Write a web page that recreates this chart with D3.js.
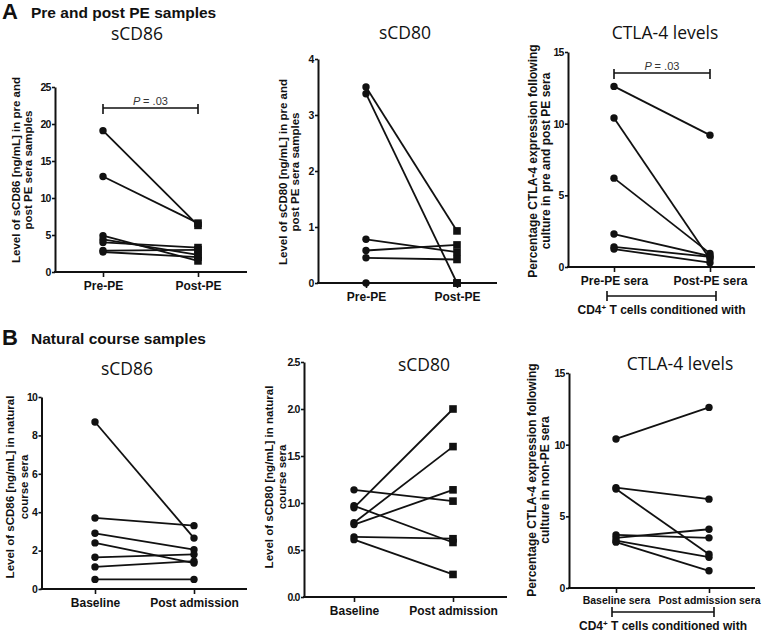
<!DOCTYPE html>
<html><head><meta charset="utf-8">
<script src="https://cdn.jsdelivr.net/npm/d3@7"></script>
<style>body{margin:0;background:#fff}svg{display:block}</style>
</head><body>
<svg id="c" width="767" height="633"></svg>
<script>
// ---------- data ----------
const catsA12 = ["Pre-PE", "Post-PE"];
const catsA3 = ["Pre-PE sera", "Post-PE sera"];
const catsB12 = ["Baseline", "Post admission"];
const catsB3 = ["Baseline sera", "Post admission sera"];

const ticksA1 = [0, 5, 10, 15, 20, 25];
const ticksA2 = [0, 1, 2, 3, 4];
const ticksA3 = [0, 5, 10, 15];
const ticksB1 = [0, 2, 4, 6, 8, 10];
const ticksB2 = [0, 0.5, 1.0, 1.5, 2.0, 2.5];
const ticksB3 = [0, 5, 10, 15];

const a1Pre  = [19.1, 12.9, 4.9, 4.4, 4.0, 2.9, 2.7];
const a1Post = [6.3, 6.6, 1.5, 2.3, 3.3, 3.0, 2.0];
const a2Pre  = [3.5, 3.38, 0.78, 0.58, 0.45, 0];
const a2Post = [0.93, 0, 0.55, 0.68, 0.42, 0];
const a3Pre  = [12.6, 10.4, 6.2, 2.3, 1.4, 1.25];
const a3Post = [9.2, 0.55, 0.95, 0.75, 0.7, 0.3];
const b1Base = [8.7, 3.7, 2.9, 2.4, 1.65, 1.15, 0.5];
const b1Post = [2.65, 3.3, 2.05, 1.35, 1.8, 1.45, 0.5];
const b2Base = [1.14, 0.97, 0.95, 0.79, 0.77, 0.64, 0.61];
const b2Post = [1.02, 0.58, 2.0, 1.6, 1.14, 0.62, 0.24];
const b3Base = [10.4, 7.0, 6.9, 3.7, 3.5, 3.3, 3.2];
const b3Post = [12.6, 6.2, 2.35, 3.5, 4.1, 2.15, 1.2];

const titles = ["sCD86", "sCD80", "CTLA-4 levels"];
const sectionA = "Pre and post PE samples";
const sectionB = "Natural course samples";
const pText = "= .03";
const condText = "T cells conditioned with";

// ---------- drawing ----------
const svg = d3.select("#c");
const INK = "#111";
const BOLD = "'Liberation Sans', Arial, Helvetica, sans-serif";
const TITLEF = "'Open Sans', 'Noto Sans', sans-serif";

function bracket(g, x0, x1, y, up, down) {
  g.append("path")
    .attr("d", `M${x0},${y}H${x1}M${x0},${y - up}V${y + down}M${x1},${y - up}V${y + down}`)
    .attr("stroke", INK).attr("stroke-width", 1.6).attr("fill", "none");
}

function panel(c) {
  const g = svg.append("g");
  const y = d3.scaleLinear().domain([0, c.max]).range([c.yBot, c.yTop]);
  const x = d3.scalePoint().domain(c.cats).range([c.x0, c.x1]);

  // y axis
  const ya = g.append("g").attr("transform", `translate(${c.ax},0)`)
    .call(d3.axisLeft(y).tickValues(c.ticks).tickSize(3).tickSizeOuter(0).tickPadding(1.5)
      .tickFormat(c.fmt));
  ya.select(".domain").attr("stroke", INK).attr("stroke-width", 2);
  ya.selectAll(".tick line").attr("stroke", INK).attr("stroke-width", 1.6);
  ya.selectAll(".tick text").attr("font-family", BOLD).attr("font-weight", "bold")
    .attr("font-size", 10.5).attr("fill", INK).attr("letter-spacing", -0.9);

  // x axis
  g.append("line").attr("x1", c.ax - 1).attr("x2", c.xEnd).attr("y1", c.yBot).attr("y2", c.yBot)
    .attr("stroke", INK).attr("stroke-width", 2);
  const xa = g.append("g").attr("transform", `translate(0,${c.yBot})`)
    .call(d3.axisBottom(x).tickSize(5).tickSizeOuter(0).tickPadding(c.xPad || 4.5));
  xa.select(".domain").remove();
  xa.selectAll(".tick line").attr("stroke", INK).attr("stroke-width", 1.6);
  xa.selectAll(".tick text").attr("font-family", BOLD).attr("font-weight", "bold")
    .attr("font-size", c.xfs || 12).attr("fill", INK);

  // lines
  const line = d3.line().x(d => x(d[0])).y(d => y(d[1]));
  const pairs = c.pre.map((v, i) => [[c.cats[0], v], [c.cats[1], c.post[i]]]);
  g.selectAll(".ln").data(pairs).enter().append("path")
    .attr("d", line).attr("stroke", INK).attr("stroke-width", 1.8).attr("fill", "none");

  // markers
  function markers(vals, cat, shape) {
    if (shape === "circle") {
      g.selectAll(null).data(vals).enter().append("circle")
        .attr("cx", x(cat)).attr("cy", d => y(d)).attr("r", 3.7).attr("fill", INK);
    } else {
      g.selectAll(null).data(vals).enter().append("rect")
        .attr("x", x(cat) - 3.8).attr("y", d => y(d) - 3.8)
        .attr("width", 7.6).attr("height", 7.6).attr("fill", INK);
    }
  }
  markers(c.pre, c.cats[0], "circle");
  markers(c.post, c.cats[1], c.postShape);

  // title
  g.append("text").attr("x", c.tx).attr("y", c.ty).attr("text-anchor", "middle")
    .attr("font-family", TITLEF).attr("font-size", 17.5).attr("fill", INK).text(c.title);

  // y label
  c.ylab.forEach((t, i) => {
    g.append("text").attr("transform", `translate(${c.ylx[i]},${c.lyc}) rotate(-90)`)
      .attr("text-anchor", "middle").attr("dominant-baseline", "central")
      .attr("font-family", BOLD).attr("font-weight", "bold").attr("font-size", c.yfs || 11.5)
      .attr("fill", INK).text(t);
  });

  // p bracket
  if (c.p) {
    bracket(g, x(c.cats[0]), x(c.cats[1]), c.p, 4, 6);
    const pt = g.append("text").attr("x", (x(c.cats[0]) + x(c.cats[1])) / 2).attr("y", c.p - 3)
      .attr("text-anchor", "middle").attr("font-family", BOLD).attr("font-size", 11).attr("fill", "#333");
    pt.append("tspan").attr("font-style", "italic").text("P ");
    pt.append("tspan").text(pText);
  }
  // condition bracket
  if (c.cond) {
    bracket(g, c.cond.x0, c.cond.x1, c.cond.y, 5, 5);
    const ct = g.append("text").attr("x", (c.cond.x0 + c.cond.x1) / 2).attr("y", c.cond.ty)
      .attr("text-anchor", "middle").attr("font-family", BOLD).attr("font-weight", "bold")
      .attr("font-size", 12).attr("fill", INK);
    ct.append("tspan").text("CD4");
    ct.append("tspan").attr("dy", -4).attr("font-size", 8).text("+");
    ct.append("tspan").attr("dy", 4).text(" " + condText);
  }
}

// section headers
function section(letter, text, y) {
  svg.append("text").attr("x", 2).attr("y", y + 1).attr("font-family", BOLD).attr("font-weight", "bold")
    .attr("font-size", 22).attr("fill", INK).text(letter);
  svg.append("text").attr("x", 31).attr("y", y).attr("font-family", BOLD).attr("font-weight", "bold")
    .attr("font-size", 15.5).attr("fill", INK).text(text);
}
section("A", sectionA, 18);
section("B", sectionB, 344);

const f0 = d3.format("d"), f1 = d3.format(".1f");

panel({cats: catsA12, max: 25, ticks: ticksA1, fmt: f0, pre: a1Pre, post: a1Post, postShape: "square",
  ax: 55, yTop: 87, yBot: 272, x0: 103, x1: 198, xEnd: 247,
  title: titles[0], tx: 137, ty: 40,
  ylab: ["Level of sCD86 [ng/mL] in pre and", "post PE sera samples"], ylx: [15.5, 28], lyc: 170,
  p: 108});
panel({cats: catsA12, max: 4, ticks: ticksA2, fmt: f0, pre: a2Pre, post: a2Post, postShape: "square",
  ax: 318, yTop: 59, yBot: 283, x0: 366, x1: 457, xEnd: 497,
  title: titles[1], tx: 405, ty: 39,
  ylab: ["Level of sCD80 [ng/mL] in pre and", "post PE sera samples"], ylx: [282.5, 294.5], lyc: 172});
panel({cats: catsA3, max: 15, ticks: ticksA3, fmt: f0, pre: a3Pre, post: a3Post, postShape: "circle",
  ax: 568, yTop: 52, yBot: 267, x0: 614, x1: 710, xEnd: 755,
  title: titles[2], tx: 665, ty: 39,
  ylab: ["Percentage CTLA-4 expression following", "culture in pre and post PE sera"], ylx: [532.5, 546], lyc: 161,
  yfs: 12,
  p: 73, cond: {x0: 607, x1: 716, y: 296, ty: 314}});
panel({cats: catsB12, max: 10, ticks: ticksB1, fmt: f0, pre: b1Base, post: b1Post, postShape: "circle",
  ax: 41.5, yTop: 397, yBot: 589, x0: 95, x1: 194, xEnd: 247,
  title: titles[0], tx: 127, ty: 375,
  ylab: ["Level of sCD86 [ng/mL] in natural", "course sera"], ylx: [9.5, 24], lyc: 487});
panel({cats: catsB12, max: 2.5, ticks: ticksB2, fmt: f1, pre: b2Base, post: b2Post, postShape: "square",
  ax: 304, yTop: 362, yBot: 597, x0: 354, x1: 453, xEnd: 507,
  title: titles[1], tx: 424, ty: 371,
  ylab: ["Level of sCD80 [ng/mL] in natural", "course sera"], ylx: [269, 282], lyc: 477});
panel({cats: catsB3, max: 15, ticks: ticksB3, fmt: f0, pre: b3Base, post: b3Post, postShape: "circle",
  ax: 569, yTop: 373, yBot: 588, x0: 616, x1: 709, xEnd: 755, xfs: 10.5, xPad: 4,
  title: titles[2], tx: 680, ty: 370,
  ylab: ["Percentage CTLA-4 expression following", "culture in non-PE sera"], ylx: [532, 545], lyc: 480,
  yfs: 12,
  cond: {x0: 612, x1: 714, y: 612, ty: 630}});
</script>
</body></html>
